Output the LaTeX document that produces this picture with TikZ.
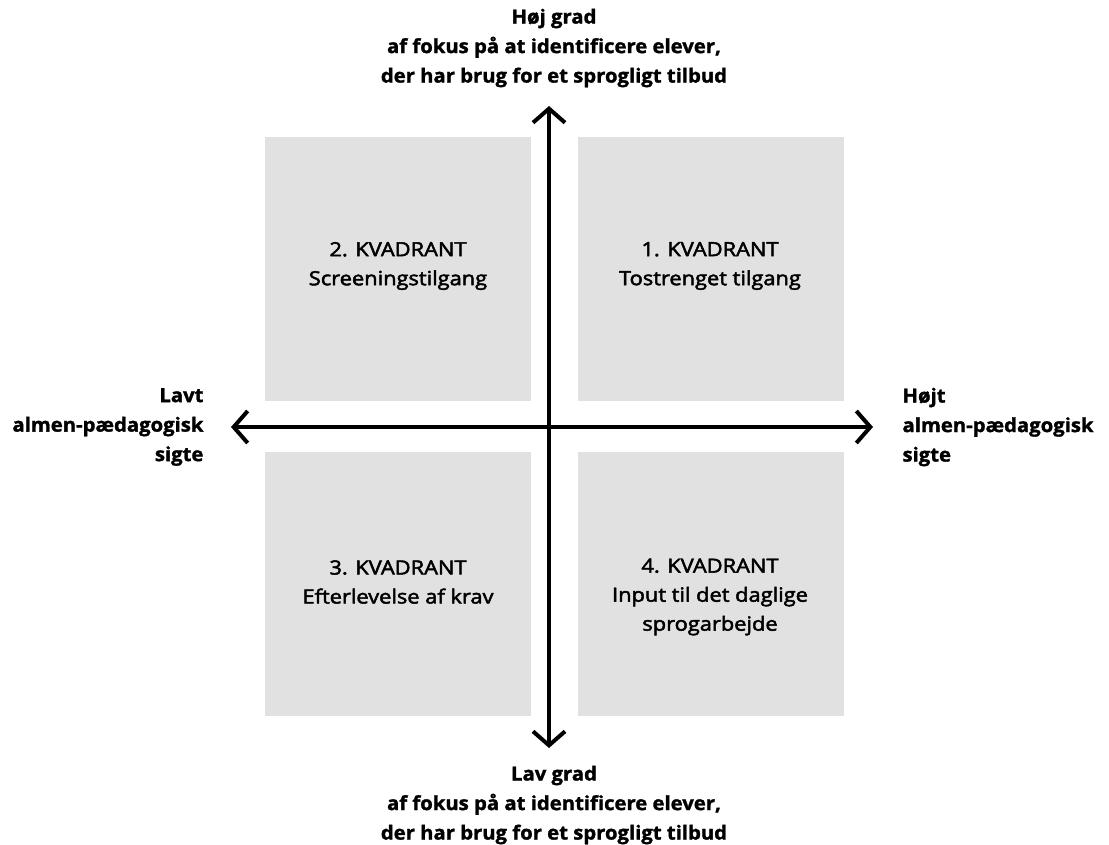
\documentclass[tikz,border=0pt]{standalone}
\usepackage{fontspec}
\setmainfont{Open Sans}
\newfontfamily\medfont[FakeBold=2.5,FakeStretch=1.12]{Open Sans}
\newfontfamily\heavyfont[FakeBold=1.5,FakeStretch=1.04]{Open Sans Bold}
\usetikzlibrary{arrows.meta}
\begin{document}
\begin{tikzpicture}[x=1pt,y=-1pt,
  quad/.style={fill=boxgray,draw=none,minimum width=266pt,minimum height=264pt,inner sep=0pt,anchor=north west},
  qtext/.style={align=center,font=\medfont\fontsize{19.5}{29}\selectfont},
  axlabel/.style={font=\heavyfont\fontsize{19.5}{29.5}\selectfont},
  axis/.style={line width=4pt,-{Straight Barb[length=14pt,width=32pt,line width=4pt]}}
]
\definecolor{boxgray}{HTML}{E1E1E1}
\useasboundingbox (0,0) rectangle (1109,844);
\node[quad] (q2) at (265,137) {};
\node[quad] (q1) at (578,137) {};
\node[quad] (q3) at (265,452) {};
\node[quad] (q4) at (578,452) {};
\node[qtext] (t2) at (398,266) {2. KVADRANT\\Screeningstilgang};
\node[qtext] (t1) at (710,266) {1. KVADRANT\\Tostrenget tilgang};
\node[qtext] (t3) at (398,582) {3. KVADRANT\\Efterlevelse af krav};
\node[qtext] (t4) at (710,597) {4. KVADRANT\\Input til det daglige\\sprogarbejde};
\coordinate (c) at (549,427);
\coordinate (top) at (549,106);
\coordinate (bot) at (549,748);
\coordinate (lft) at (231,427);
\coordinate (rgt) at (873,427);
\draw[axis] (c) -- (top);
\draw[axis] (c) -- (bot);
\draw[axis] (c) -- (lft);
\draw[axis] (c) -- (rgt);
\node[axlabel,align=center] (lt) at (554,48) {Høj grad\\af fokus på at identificere elever,\\der har brug for et sprogligt tilbud};
\node[axlabel,align=center] (lb) at (554,805) {Lav grad\\af fokus på at identificere elever,\\der har brug for et sprogligt tilbud};
\node[axlabel,align=right,anchor=east] (ll) at (207,427) {Lavt\\almen-pædagogisk\\sigte};
\node[axlabel,align=left,anchor=west] (lr) at (899,427) {Højt\\almen-pædagogisk\\sigte};
\end{tikzpicture}
\end{document}
